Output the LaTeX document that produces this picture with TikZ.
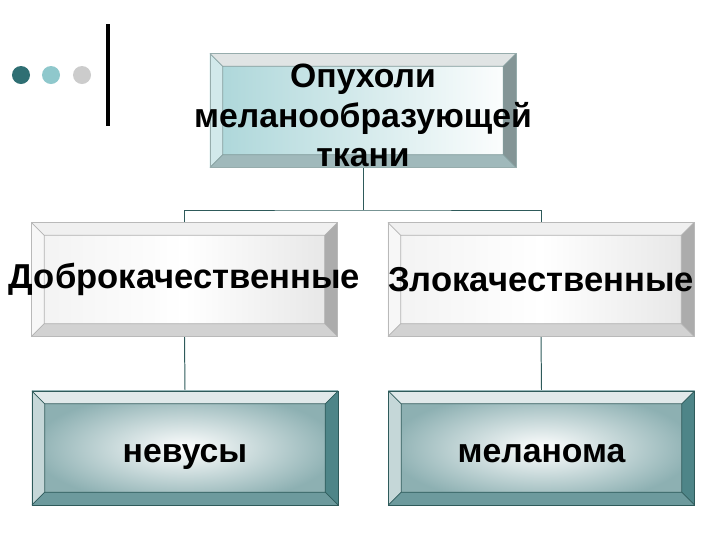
\documentclass[tikz,border=0pt]{standalone}
\usepackage{fontspec}
\setmainfont{Liberation Sans}
\usetikzlibrary{backgrounds}
\pgfdeclarelayer{edgelayer}
\pgfdeclarelayer{nodelayer}
\pgfsetlayers{edgelayer,nodelayer,main}
\definecolor{tealdark}{HTML}{2F6F73}
\definecolor{teallight}{HTML}{8FC8CC}
\definecolor{greydot}{HTML}{CCCCCC}
\definecolor{linkcol}{HTML}{2E5A5A}
\newcommand{\bevw}{0.32cm}
\newcommand{\bevelfaces}[5]{%
	\coordinate (pnw) at (path picture bounding box.north west);
	\coordinate (pne) at (path picture bounding box.north east);
	\coordinate (psw) at (path picture bounding box.south west);
	\coordinate (pse) at (path picture bounding box.south east);
	\coordinate (qnw) at ([shift={(\bevw,-\bevw)}]pnw);
	\coordinate (qne) at ([shift={(-\bevw,-\bevw)}]pne);
	\coordinate (qsw) at ([shift={(\bevw,\bevw)}]psw);
	\coordinate (qse) at ([shift={(-\bevw,\bevw)}]pse);
	\fill[#1] (pnw) -- (pne) -- (qne) -- (qnw) -- cycle;
	\fill[#2] (pnw) -- (qnw) -- (qsw) -- (psw) -- cycle;
	\fill[#3] (pne) -- (pse) -- (qse) -- (qne) -- cycle;
	\fill[#4] (psw) -- (qsw) -- (qse) -- (pse) -- cycle;
	\draw[#5, line width=0.5pt] (qnw) rectangle (qse) (pnw) -- (qnw) (pne) -- (qne) (psw) -- (qsw) (pse) -- (qse);
}
\tikzstyle{tier}=[rectangle,minimum width=7.65cm,minimum height=2.85cm,inner sep=0pt,line width=0.6pt,text=black,font=\bfseries\fontsize{24pt}{27pt}\selectfont]
\tikzstyle{toptier}=[tier,draw=linkcol!50,left color=teallight!75,right color=white,align=center,
	path picture={\bevelfaces{fill=teallight!25!gray!25}{fill=teallight!40}{fill=gray!70!teallight}{fill=teallight!55!gray!80}{linkcol!60}}]
\tikzstyle{midtier}=[tier,draw=gray!55,left color=gray!10,right color=gray!20,middle color=white,font=\bfseries\fontsize{24.6pt}{27pt}\selectfont,
	path picture={\bevelfaces{fill=gray!12}{fill=gray!6}{fill=gray!65}{fill=gray!35}{gray!60}}]
\tikzstyle{lowtier}=[tier,draw=linkcol,inner color=white,outer color=tealdark!55,text height=0.7cm,text depth=0pt,
	path picture={\bevelfaces{fill=tealdark!15}{fill=tealdark!28}{fill=tealdark!85}{fill=tealdark!70}{linkcol}}]
\tikzstyle{dot}=[circle,inner sep=0pt,minimum size=0.45cm]
\tikzstyle{link}=[draw=linkcol,line width=0.7pt]

\begin{document}
\begin{tikzpicture}[x=0.025cm,y=-0.025cm]
	\useasboundingbox (0,0) rectangle (720,540);
	\begin{pgfonlayer}{nodelayer}
		\node [style=toptier] (0) at (363, 110.5) {\rule{0pt}{0.85cm}Опухоли\\[0.04cm]\makebox[0pt]{меланообразующей}\\[0.04cm]ткани};
		\node [style=midtier] (1) at (184.5, 279.5) {\makebox[0pt]{Доброкачественные}};
		\node [style=midtier] (2) at (541, 279.5) {\makebox[0pt]{Злокачественные}};
		\node [style=lowtier] (3) at (185, 448) {невусы};
		\node [style=lowtier] (4) at (541.5, 448) {меланома};
		\coordinate (5) at (363, 210);
		\node [style=dot, fill=tealdark] (6) at (21, 75) {};
		\node [style=dot, fill=teallight] (7) at (51, 75) {};
		\node [style=dot, fill=greydot] (8) at (82, 75) {};
	\end{pgfonlayer}
	\begin{pgfonlayer}{edgelayer}
		\draw [style=link] (0.south) to (5);
		\draw [style=link] (1.north) |- (5) -| (2.north);
		\draw [style=link] (1.south) to (3.north);
		\draw [style=link] (2.south) to (4.north);
	\end{pgfonlayer}
	\draw [line width=2.2pt] (108, 24) -- (108, 126);
\end{tikzpicture}
\end{document}
